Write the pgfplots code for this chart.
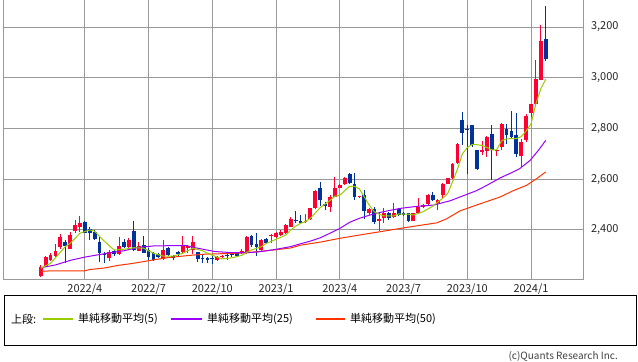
\documentclass[border=0pt]{standalone}
\usepackage{fontspec}
\setmainfont{Noto Sans CJK JP}
\usepackage{pgfplots}
\usepackage{pgfplotstable}
\pgfplotsset{compat=1.18}
\definecolor{upred}{RGB}{255,0,51}
\definecolor{dnblue}{RGB}{0,51,153}
\definecolor{maA}{RGB}{153,204,0}
\definecolor{maB}{RGB}{153,0,255}
\definecolor{maC}{RGB}{255,51,0}
\definecolor{gridgray}{RGB}{153,153,153}

% weekly candles, x = week index
\pgfplotstableread{
i O H L C
0 2218 2262 2213 2253
1 2255 2297 2252 2292
2 2282 2308 2278 2301
3 2297 2343 2295 2318
4 2332 2384 2326 2371
6 2326 2390 2324 2380
7 2396 2439 2387 2420
8 2411 2455 2393 2429
14 2288 2321 2278 2315
16 2305 2371 2301 2337
18 2334 2367 2326 2361
20 2318 2354 2318 2337
25 2286 2361 2282 2321
29 2314 2378 2308 2341
30 2330 2341 2308 2336
31 2321 2378 2304 2354
36 2280 2297 2278 2295
37 2293 2300 2290 2298
41 2308 2324 2305 2318
42 2308 2378 2306 2374
45 2321 2366 2318 2361
47 2376 2383 2347 2381
48 2374 2390 2370 2387
49 2380 2398 2376 2393
50 2387 2424 2383 2420
51 2413 2450 2410 2442
54 2430 2463 2428 2437
55 2442 2487 2440 2485
56 2485 2558 2483 2554
59 2491 2537 2472 2531
60 2531 2607 2531 2567
61 2567 2580 2565 2576
62 2580 2610 2578 2606
65 2528 2535 2525 2533
67 2465 2485 2460 2481
69 2437 2465 2397 2442
70 2446 2485 2426 2465
72 2452 2505 2446 2468
76 2437 2468 2435 2465
77 2465 2524 2462 2491
78 2491 2502 2488 2498
79 2502 2540 2498 2537
81 2505 2522 2478 2518
82 2537 2586 2527 2583
83 2583 2606 2580 2603
84 2603 2665 2600 2661
85 2664 2742 2660 2737
90 2707 2752 2695 2716
91 2711 2769 2688 2766
93 2711 2720 2690 2716
94 2727 2820 2717 2816
98 2690 2760 2650 2745
99 2755 2858 2745 2851
100 2861 2898 2845 2895
101 2895 3069 2890 2994
102 2993 3208 2990 3145
}\upcandles

\pgfplotstableread{
i O H L C
5 2353 2361 2269 2337
9 2432 2435 2387 2389
10 2405 2411 2361 2387
11 2393 2400 2361 2363
12 2353 2374 2275 2311
13 2307 2315 2271 2303
15 2318 2321 2297 2305
17 2354 2363 2330 2334
19 2397 2437 2318 2321
21 2341 2376 2308 2311
22 2321 2328 2282 2295
23 2311 2315 2279 2282
24 2304 2308 2288 2295
26 2330 2334 2297 2301
27 2297 2303 2280 2291
28 2312 2318 2297 2305
32 2312 2315 2275 2286
33 2288 2301 2268 2284
34 2289 2295 2270 2282
35 2288 2297 2265 2284
38 2303 2315 2280 2299
39 2306 2315 2295 2302
40 2311 2313 2296 2299
43 2376 2382 2334 2341
44 2343 2389 2297 2334
46 2363 2368 2345 2350
52 2440 2475 2426 2436
53 2437 2457 2422 2429
57 2567 2590 2495 2518
58 2502 2510 2480 2493
63 2620 2625 2583 2586
64 2583 2625 2520 2531
66 2537 2557 2443 2476
68 2481 2491 2423 2433
71 2465 2470 2440 2446
73 2481 2485 2455 2459
74 2465 2470 2455 2459
75 2465 2468 2433 2437
80 2537 2550 2515 2518
86 2834 2864 2735 2782
87 2799 2812 2622 2795
88 2812 2812 2727 2733
89 2714 2716 2638 2642
92 2779 2812 2598 2714
95 2799 2816 2739 2773
96 2789 2870 2762 2766
97 2776 2861 2687 2698
103 3152 3283 3067 3073
}\downcandles

\pgfplotstableread{
i v
0 2249
2 2268
3 2290
5 2334
6 2347
8 2387
10 2400
11 2395
12 2374
14 2337
15 2321
17 2324
19 2330
21 2328
23 2308
25 2297
27 2297
29 2308
31 2328
33 2318
35 2300
37 2286
39 2290
41 2300
43 2321
45 2334
46 2347
48 2363
50 2380
51 2400
52 2415
53 2426
54 2433
55 2446
57 2488
59 2516
60 2533
61 2537
63 2572
64 2572
65 2562
66 2530
67 2498
68 2472
69 2462
70 2455
72 2455
73 2463
75 2462
76 2459
77 2465
78 2472
80 2494
81 2510
82 2525
83 2544
84 2590
85 2640
86 2700
87 2725
88 2737
89 2736
90 2733
91 2725
92 2716
93 2716
94 2752
95 2759
96 2760
97 2760
98 2768
99 2790
100 2818
101 2898
102 2957
103 2994
}\maA

\pgfplotstableread{
i v
0 2251
3 2262
6 2280
9 2293
12 2303
14.7 2312
17 2318
19.6 2330
23 2337
26.4 2338
29.8 2338
31.5 2330
33.9 2321
35.5 2315
38.6 2311
41.3 2310
44.1 2313
46.1 2318
48.1 2324
50.9 2334
52.9 2345
55 2356
57 2369
59 2387
61 2406
63 2430
65 2446
67.2 2459
69.9 2472
73.3 2485
76.7 2493
80.1 2498
83.5 2515
86.2 2535
88.9 2555
91 2576
93.7 2605
96.4 2629
97.7 2642
99.8 2674
101.5 2714
103 2753
}\maB

\pgfplotstableread{
i v
0 2238
9 2239
10 2244
13 2250
16 2261
18 2266
20 2272
23 2282
26 2291
30 2299
33 2304
38 2307
42 2310
45 2316
48 2322
51 2329
53 2340
57 2352
61 2367
65 2380
69.2 2393
73.3 2406
77.3 2418
80.8 2428
82.8 2444
85.5 2475
89.6 2503
93.7 2530
96.4 2555
99.1 2576
101.2 2603
103 2629
}\maC

\begin{document}
\begin{tikzpicture}[font=\fontsize{11bp}{13bp}\selectfont]
\begin{axis}[
  at={(3.3bp,82bp)}, anchor=south west,
  scale only axis, width=579.7bp, height=280bp,
  xmin=-7.63, xmax=110.6, ymin=2202.7, ymax=3306.5,
  axis line style={gridgray, line width=1bp},
  grid=major, major grid style={gridgray, line width=1bp},
  xtick={9,22,35,48,61,74,87,100},
  xticklabels={2022/4,2022/7,2022/10,2023/1,2023/4,2023/7,2023/10,2024/1},
  ytick={2400,2600,2800,3000,3200},
  yticklabel pos=right,
  major tick length=0pt,
  tick label style={font=\fontsize{11bp}{13bp}\selectfont, text=black!85},
  yticklabel style={anchor=west, xshift=4.5bp},
  /pgf/number format/assume math mode=true,
  /pgf/number format/1000 sep={,},
]
% wicks
\addplot[draw=none, mark=none, forget plot,
  error bars/.cd, y dir=plus, y explicit, error mark=none,
  error bar style={draw=upred, line width=1bp}]
  table[x=i, y=L, y error expr=\thisrow{H}-\thisrow{L}] {\upcandles};
\addplot[draw=none, mark=none, forget plot,
  error bars/.cd, y dir=plus, y explicit, error mark=none,
  error bar style={draw=dnblue, line width=1bp}]
  table[x=i, y=L, y error expr=\thisrow{H}-\thisrow{L}] {\downcandles};
% bodies
\addplot[draw=none, mark=none, forget plot,
  error bars/.cd, y dir=plus, y explicit, error mark=none,
  error bar style={draw=upred, line width=3.8bp}]
  table[x=i, y=O, y error expr=\thisrow{C}-\thisrow{O}] {\upcandles};
\addplot[draw=none, mark=none, forget plot,
  error bars/.cd, y dir=plus, y explicit, error mark=none,
  error bar style={draw=dnblue, line width=3.8bp}]
  table[x=i, y=C, y error expr=\thisrow{O}-\thisrow{C}] {\downcandles};
% moving averages
\addplot[maC, line width=1bp, mark=none] table[x=i, y=v] {\maC};
\addplot[maB, line width=1bp, mark=none] table[x=i, y=v] {\maB};
\addplot[maA, line width=1bp, mark=none] table[x=i, y=v] {\maA};
\end{axis}
% legend box
\draw[black, line width=1bp] (4bp,16bp) rectangle (636bp,66bp);
\node[anchor=west, inner sep=0pt] at (11bp,43bp) {上段:};
\draw[maA, line width=1.2bp] (43bp,43bp) -- (73bp,43bp);
\node[anchor=west, inner sep=0pt] at (78bp,43bp) {単純移動平均(5)};
\draw[maB, line width=1.2bp] (171bp,43bp) -- (202bp,43bp);
\node[anchor=west, inner sep=0pt] at (207bp,43bp) {単純移動平均(25)};
\draw[maC, line width=1.2bp] (316bp,43bp) -- (345bp,43bp);
\node[anchor=west, inner sep=0pt] at (350bp,43bp) {単純移動平均(50)};
\node[anchor=east, inner sep=0pt, font=\fontsize{10bp}{12bp}\selectfont, text=black!75] at (618bp,6bp) {(c)Quants Research Inc.};
\pgfresetboundingbox
\path (0bp,0bp) rectangle (638bp,362bp);
\end{tikzpicture}
\end{document}
